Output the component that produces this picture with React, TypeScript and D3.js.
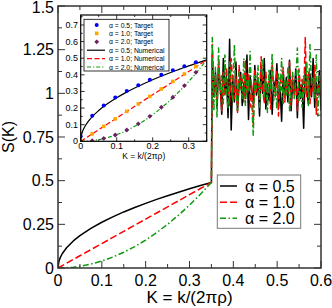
import React from "react";
import * as d3 from "d3";

// ---- data ----
const CURVE_K = [0, 0.002, 0.005, 0.01, 0.02, 0.035, 0.05, 0.075, 0.1, 0.125, 0.15, 0.175, 0.2, 0.225, 0.25, 0.275, 0.3, 0.325, 0.35];
const CURVE_A05 = [0, 0.037, 0.059, 0.083, 0.117, 0.155, 0.185, 0.227, 0.262, 0.293, 0.321, 0.346, 0.37, 0.393, 0.414, 0.434, 0.454, 0.472, 0.49];
const CURVE_A10 = [0, 0.0028, 0.007, 0.014, 0.028, 0.049, 0.07, 0.105, 0.14, 0.175, 0.21, 0.245, 0.28, 0.315, 0.35, 0.385, 0.42, 0.455, 0.49];
const CURVE_A20 = [0, 0.00002, 0.0001, 0.0004, 0.0016, 0.0049, 0.01, 0.0225, 0.04, 0.0625, 0.09, 0.1225, 0.16, 0.2025, 0.25, 0.3025, 0.36, 0.4225, 0.49];

const NOISE_K_START = 0.352;
const NOISE_K_END = 0.6;
const NOISE_A05 = [1.22, 0.98, 1.12, 0.92, 1.15, 1.05, 0.88, 1.2, 1.0, 1.1, 0.86, 1.31, 0.79, 1.08, 0.95, 1.18, 0.9, 1.04, 1.12, 0.93, 1.06, 0.97, 1.22, 0.85, 1.1, 1.02, 0.94, 1.16, 0.99, 1.08, 0.87, 1.14, 1.0, 1.2, 0.91, 1.05, 0.96, 1.13, 0.88, 1.07, 1.01, 1.17, 0.93, 1.03, 0.84, 1.12, 0.98, 1.09, 0.95, 1.19, 0.9, 1.06, 1.0, 1.14, 0.86, 1.1, 0.97, 1.05, 0.8, 1.15, 1.02, 0.94, 1.11, 0.98, 1.2, 0.92, 1.06, 0.99, 1.13, 0.9];
const NOISE_A10 = [1.28, 1.0, 1.1, 0.95, 1.18, 1.04, 0.9, 1.12, 0.98, 1.15, 1.02, 0.93, 1.2, 1.06, 0.97, 1.1, 0.89, 1.16, 1.03, 1.08, 0.95, 1.19, 1.0, 1.11, 0.92, 1.06, 0.81, 1.14, 1.01, 1.09, 0.96, 1.21, 1.03, 0.94, 1.12, 1.0, 1.07, 0.91, 1.17, 1.04, 0.98, 1.13, 0.87, 1.09, 1.02, 1.15, 0.95, 1.06, 1.0, 1.18, 0.93, 1.1, 0.99, 1.05, 0.9, 1.14, 1.03, 1.08, 0.96, 1.32, 0.98, 1.12, 0.94, 1.07, 1.01, 1.16, 0.88, 1.05, 0.99, 1.1];
const NOISE_A20 = [1.32, 0.9, 1.15, 0.86, 1.26, 1.0, 1.1, 0.94, 1.22, 1.02, 0.91, 1.18, 1.07, 0.96, 1.28, 1.0, 0.9, 1.12, 1.04, 0.97, 1.2, 0.93, 1.08, 1.01, 1.24, 0.95, 0.76, 1.1, 1.03, 1.16, 0.92, 1.06, 1.19, 0.98, 1.09, 0.89, 1.14, 1.02, 1.23, 0.96, 1.05, 0.91, 1.11, 1.0, 1.2, 0.94, 1.07, 0.99, 1.15, 0.9, 1.04, 1.12, 0.97, 1.08, 1.26, 0.95, 1.03, 0.92, 1.11, 1.0, 1.18, 0.93, 1.28, 1.05, 1.09, 0.97, 1.22, 0.87, 1.1, 1.02];

const TARGET_K = [0, 0.032, 0.064, 0.096, 0.128, 0.16, 0.192, 0.224, 0.256, 0.288, 0.32];
const TARGET_A05 = [0.03, 0.153, 0.215, 0.263, 0.303, 0.338, 0.371, 0.4, 0.427, 0.452, 0.476];
const TARGET_A10 = [0, 0.045, 0.09, 0.135, 0.18, 0.225, 0.27, 0.315, 0.36, 0.405, 0.45];
const TARGET_A20 = [0, 0.004, 0.017, 0.038, 0.068, 0.105, 0.15, 0.205, 0.265, 0.335, 0.415];

const SERIES_LABELS = ["\u03b1 = 0.5", "\u03b1 = 1.0", "\u03b1 = 2.0"];
const X_TICKS = [0, 0.1, 0.2, 0.3, 0.4, 0.5, 0.6];
const X_TICK_LABELS = ["0", "0.1", "0.2", "0.3", "0.4", "0.5", "0.6"];
const Y_TICKS = [0, 0.25, 0.5, 0.75, 1, 1.25, 1.5];
const Y_TICK_LABELS = ["0", "0.25", "0.5", "0.75", "1", "1.25", "1.5"];
const IX_TICKS = [0, 0.1, 0.2, 0.3];
const IX_TICK_LABELS = ["0", "0.1", "0.2", "0.3"];
const IY_TICKS = [0, 0.1, 0.2, 0.3, 0.4, 0.5, 0.6, 0.7];
const IY_TICK_LABELS = ["0", "0.1", "0.2", "0.3", "0.4", "0.5", "0.6", "0.7"];

const COLORS = ["#000000", "#ff0000", "#0f9a0f"];
const DASHES = ["none", "7,3", "6,2.5,1.5,2.5"];
const IDASHES = ["none", "5,2.5", "4,2,1.2,2"];
const MARK_COLORS = ["#0000ff", "#ffa500", "#6a1f60"];
const FONT = "Liberation Sans, Arial, Helvetica, sans-serif";

export default function App() {
  const W = 332, H = 308;
  const L = 58, R = 321, T = 6, B = 268;
  const x = d3.scaleLinear([0, 0.6], [L, R]);
  const y = d3.scaleLinear([0, 1.5], [B, T]);

  const IL = 80.7, IR = 206.7, IT = 15, IB = 141.3;
  const ix = d3.scaleLinear([0, 0.35], [IL, IR]);
  const iy = d3.scaleLinear([0, 0.76], [IB, IT]);

  const curves = [CURVE_A05, CURVE_A10, CURVE_A20];
  const noises = [NOISE_A05, NOISE_A10, NOISE_A20];
  const targets = [TARGET_A05, TARGET_A10, TARGET_A20];

  const mainSeries = curves.map((c, s) => {
    const pts: [number, number][] = CURVE_K.map((k, i) => [k, c[i]]);
    const n = noises[s].length;
    const nk = d3.scaleLinear([0, n - 1], [NOISE_K_START, NOISE_K_END]);
    noises[s].forEach((v, i) => pts.push([nk(i), v]));
    return pts;
  });

  const mainLine = d3.line<[number, number]>().x((d) => x(d[0])).y((d) => y(d[1]));
  const insetLine = d3.line<[number, number]>().x((d) => ix(d[0])).y((d) => iy(d[1])).curve(d3.curveMonotoneX);

  const xMinor = d3.range(0, 0.6001, 0.05);
  const yMinor = d3.range(0, 1.5001, 0.125);
  const ixMinor = d3.range(0, 0.3501, 0.05);
  const iyMinor = d3.range(0, 0.7601, 0.05);

  const frame = "#333";

  const legendRows = [186, 202.3, 218.3];
  const iLegRows = [25, 33.4, 41.8, 50.2, 58.6, 67];

  const marker = (s: number, cx: number, cy: number, key: string) => {
    if (s === 0) return <circle key={key} cx={cx} cy={cy} r={2} fill={MARK_COLORS[0]} />;
    if (s === 1) return <rect key={key} x={cx - 1.8} y={cy - 1.8} width={3.6} height={3.6} fill={MARK_COLORS[1]} />;
    return <path key={key} d={`M${cx},${cy - 2.4}L${cx + 2.4},${cy}L${cx},${cy + 2.4}L${cx - 2.4},${cy}Z`} fill={MARK_COLORS[2]} />;
  };

  return (
    <svg width={W} height={H} style={{ position: "absolute", left: 0, top: 0, background: "#fff" }} fontFamily={FONT}>
      <defs>
        <clipPath id="mainclip"><rect x={L} y={T} width={R - L} height={B - T} /></clipPath>
        <clipPath id="insetclip"><rect x={IL} y={IT} width={IR - IL} height={IB - IT} /></clipPath>
      </defs>
      <rect x={0} y={0} width={W} height={H} fill="#fff" />

      {/* main lines */}
      <g clipPath="url(#mainclip)">
        {mainSeries.map((pts, s) => (
          <path key={s} d={mainLine(pts) || ""} fill="none" stroke={COLORS[s]} strokeWidth={1.5}
            strokeDasharray={DASHES[s]} strokeLinejoin="round" />
        ))}
      </g>

      {/* main ticks */}
      {xMinor.map((v, i) => {
        const major = Math.abs(v * 10 - Math.round(v * 10)) < 1e-6;
        const len = major ? 7 : 4;
        return (
          <g key={"xt" + i} stroke={frame} strokeWidth={1}>
            <line x1={x(v)} x2={x(v)} y1={B} y2={B - len} />
            <line x1={x(v)} x2={x(v)} y1={T} y2={T + len} />
          </g>
        );
      })}
      {yMinor.map((v, i) => {
        const major = Math.abs(v * 4 - Math.round(v * 4)) < 1e-6;
        const len = major ? 7 : 4;
        return (
          <g key={"yt" + i} stroke={frame} strokeWidth={1}>
            <line x1={L} x2={L + len} y1={y(v)} y2={y(v)} />
            <line x1={R} x2={R - len} y1={y(v)} y2={y(v)} />
          </g>
        );
      })}
      <rect x={L} y={T} width={R - L} height={B - T} fill="none" stroke={frame} strokeWidth={1.5} />

      {X_TICKS.map((v, i) => (
        <text key={"xl" + i} x={x(v)} y={286} fontSize={16} textAnchor="middle" fill="#000">{X_TICK_LABELS[i]}</text>
      ))}
      {Y_TICKS.map((v, i) => (
        <text key={"yl" + i} x={54} y={Math.max(y(v), 7.5)} fontSize={16} textAnchor="end" dominantBaseline="central" fill="#000">{Y_TICK_LABELS[i]}</text>
      ))}
      <text x={(L + R) / 2} y={303} fontSize={17} textAnchor="middle" fill="#000">K = k/(2πρ)</text>
      <text transform={`translate(14,${(T + B) / 2}) rotate(-90)`} fontSize={16} textAnchor="middle" fill="#000">S(K)</text>

      {/* main legend */}
      <rect x={217.3} y={175} width={83.4} height={53.3} fill="#fff" stroke="#777" strokeWidth={1} />
      {legendRows.map((ry, s) => (
        <g key={"lg" + s}>
          <line x1={220} x2={237} y1={ry} y2={ry} stroke={COLORS[s]} strokeWidth={1.5} strokeDasharray={DASHES[s]} />
          <text x={245} y={ry} fontSize={16} dominantBaseline="central" fill="#000">{SERIES_LABELS[s]}</text>
        </g>
      ))}

      {/* inset */}
      <rect x={IL} y={IT} width={IR - IL} height={IB - IT} fill="#fff" />
      <g clipPath="url(#insetclip)">
        {curves.map((c, s) => (
          <path key={"il" + s} d={insetLine(CURVE_K.map((k, i) => [k, c[i]] as [number, number])) || ""} fill="none"
            stroke={COLORS[s]} strokeWidth={1.2} strokeDasharray={IDASHES[s]} />
        ))}
        {targets.map((t, s) => TARGET_K.map((k, i) => marker(s, ix(k), iy(t[i]), `m${s}-${i}`)))}
      </g>
      {ixMinor.map((v, i) => {
        const major = Math.abs(v * 10 - Math.round(v * 10)) < 1e-6;
        const len = major ? 4 : 2;
        return (
          <g key={"ixt" + i} stroke="#000" strokeWidth={0.8}>
            <line x1={ix(v)} x2={ix(v)} y1={IB} y2={IB - len} />
            <line x1={ix(v)} x2={ix(v)} y1={IT} y2={IT + len} />
          </g>
        );
      })}
      {iyMinor.map((v, i) => {
        const major = Math.abs(v * 10 - Math.round(v * 10)) < 1e-6;
        const len = major ? 4 : 2;
        return (
          <g key={"iyt" + i} stroke="#000" strokeWidth={0.8}>
            <line x1={IL} x2={IL + len} y1={iy(v)} y2={iy(v)} />
            <line x1={IR} x2={IR - len} y1={iy(v)} y2={iy(v)} />
          </g>
        );
      })}
      <rect x={IL} y={IT} width={IR - IL} height={IB - IT} fill="none" stroke="#000" strokeWidth={1.2} />
      {IX_TICKS.map((v, i) => (
        <text key={"ixl" + i} x={ix(v)} y={149} fontSize={9} textAnchor="middle" fill="#000">{IX_TICK_LABELS[i]}</text>
      ))}
      {IY_TICKS.map((v, i) => (
        <text key={"iyl" + i} x={78} y={iy(v)} fontSize={9} textAnchor="end" dominantBaseline="central" fill="#000">{IY_TICK_LABELS[i]}</text>
      ))}
      <text x={(IL + IR) / 2} y={159} fontSize={8.5} textAnchor="middle" fill="#000">K = k/(2πρ)</text>

      {/* inset legend */}
      <rect x={84} y={19.3} width={85} height={51.7} fill="#fff" stroke="#000" strokeWidth={0.8} />
      {[0, 1, 2].map((s) => (
        <g key={"ilt" + s}>
          {marker(s, 96.7, iLegRows[s], "ilm" + s)}
          <text x={109} y={iLegRows[s]} fontSize={6.8} dominantBaseline="central" fill="#000">{SERIES_LABELS[s]}; Target</text>
        </g>
      ))}
      {[0, 1, 2].map((s) => (
        <g key={"iln" + s}>
          <line x1={87} x2={105} y1={iLegRows[s + 3]} y2={iLegRows[s + 3]} stroke={COLORS[s]} strokeWidth={1.2} strokeDasharray={IDASHES[s]} />
          <text x={109} y={iLegRows[s + 3]} fontSize={6.8} dominantBaseline="central" fill="#000">{SERIES_LABELS[s]}; Numerical</text>
        </g>
      ))}
    </svg>
  );
}
